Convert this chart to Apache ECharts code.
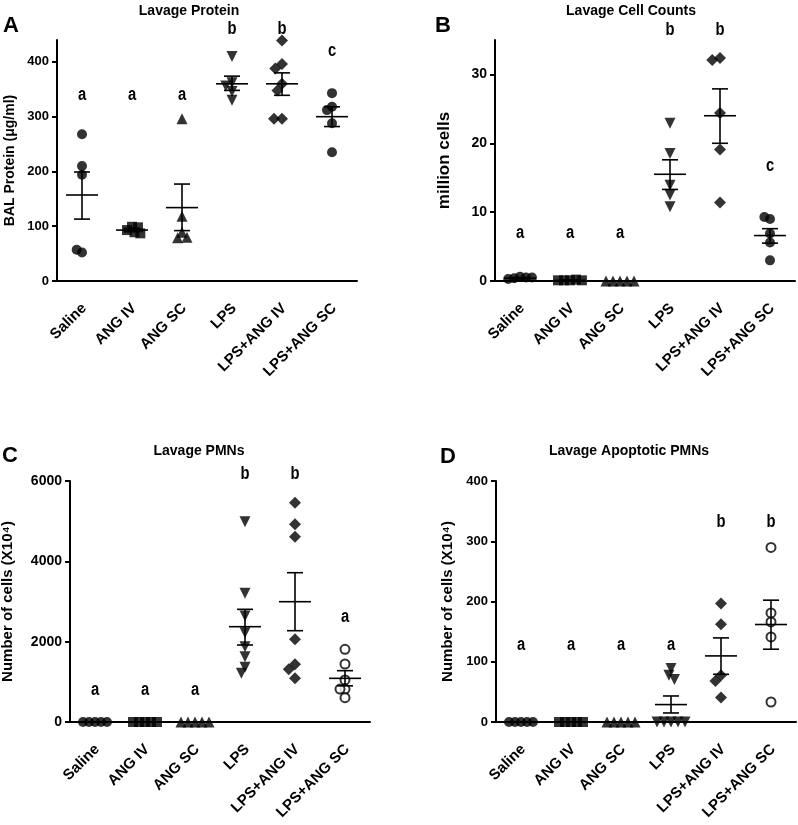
<!DOCTYPE html>
<html><head><meta charset="utf-8">
<script src="https://cdn.jsdelivr.net/npm/echarts@6/dist/echarts.min.js"></script>
<style>html,body{margin:0;padding:0;background:#fff}#c{width:798px;height:825px}</style>
</head><body><div id="c"></div>
<script>
const categories = ['Saline', 'ANG IV', 'ANG SC', 'LPS', 'LPS+ANG IV', 'LPS+ANG SC'];

// Panel A - Lavage Protein (µg/ml)
const proteinPoints = [
  [268, 210, 194, 52, 57],
  [99, 98, 93, 89, 87],
  [296, 118, 89, 79, 80],
  [410, 362, 356, 346, 330],
  [439, 396, 388, 360, 348, 296, 296],
  [343, 318, 312, 288, 235]
];
const proteinMean = [157, 93, 134, 360, 360, 300];
const proteinSemHigh = [199, 96, 177, 374, 380, 318];
const proteinSemLow = [113, 90, 92, 348, 339, 282];
const proteinLetters = ['a', 'a', 'a', 'b', 'b', 'c'];
const proteinLetterLevel = [340, 340, 340, 460, 460, 419];
const proteinTicks = [0, 100, 200, 300, 400];

// Panel B - Lavage Cell Counts (million cells)
const cellPoints = [
  [0.6, 0.4, 0.5, 0.3, 0.5],
  [0.1, 0.1, 0.2, 0.1, 0.1],
  [0, 0, 0, 0, 0],
  [22.9, 18.5, 13.9, 12.5, 10.8],
  [32.4, 32.1, 24.4, 19.1, 11.4],
  [9.0, 9.3, 6.9, 5.6, 3.0]
];
const cellMean = [0.4, 0.1, 0.0, 15.5, 24.0, 6.6];
const cellSemHigh = [0.5, 0.15, 0.0, 17.6, 27.9, 7.6];
const cellSemLow = [0.3, 0.05, 0.0, 13.3, 20.0, 5.5];
const cellLetters = ['a', 'a', 'a', 'b', 'b', 'c'];
const cellLetterLevel = [6.9, 6.9, 6.9, 36.5, 36.5, 16.7];
const cellTicks = [0, 10, 20, 30];

// Panel C - Lavage PMNs (x10^4)
const pmnPoints = [
  [0, 0, 0, 0, 0],
  [0, 0, 0, 0, 0],
  [0, 0, 0, 0, 0],
  [4987, 3204, 2639, 2224, 1876, 1626, 1361, 1212],
  [5460, 4921, 4613, 2058, 1436, 1311, 1087],
  [1809, 1444, 1046, 821, 821, 605]
];
const pmnMean = [0, 0, 0, 2373, 2995, 1087];
const pmnSemHigh = [0, 0, 0, 2805, 3717, 1278];
const pmnSemLow = [0, 0, 0, 1917, 2273, 900];
const pmnLetters = ['a', 'a', 'a', 'b', 'b', 'a'];
const pmnLetterLevel = [806, 806, 806, 6184, 6184, 2614];
const pmnTicks = [0, 2000, 4000, 6000];

// Panel D - Lavage Apoptotic PMNs (x10^4)
const apoPoints = [
  [0, 0, 0, 0, 0],
  [0, 0, 0, 0, 0],
  [0, 0, 0, 0, 0],
  [88.7, 77.6, 70.4, 0, 0, 0, 0, 0],
  [196.6, 162.3, 77.6, 68.1, 40.5],
  [289.7, 181.1, 166.1, 141.2, 33.2]
];
const apoMean = [0, 0, 0, 28.9, 109.7, 161.8];
const apoSemHigh = [0, 0, 0, 43.2, 139.6, 202.2];
const apoSemLow = [0, 0, 0, 15.0, 79.2, 120.8];
const apoLetters = ['a', 'a', 'a', 'a', 'b', 'b'];
const apoLetterLevel = [127, 127, 127, 127, 332, 332];
const apoTicks = [0, 100, 200, 300, 400];

const FONT = '"Liberation Sans", Arial, Helvetica, sans-serif';

const panels = [
  { letter: 'A', title: 'Lavage Protein', grid: { left: 57, top: 40, width: 300, height: 241 }, max: 440, interval: 100,
    ticks: proteinTicks, points: proteinPoints, mean: proteinMean, hi: proteinSemHigh, lo: proteinSemLow,
    letters: proteinLetters, levels: proteinLetterLevel, yName: 'BAL Protein (μg/ml)', nameGap: 40, tickFont: 13, nameFont: 14,
    titlePos: [189, 11], letterPos: [11, 26], open: false },
  { letter: 'B', title: 'Lavage Cell Counts', grid: { left: 495, top: 40, width: 300, height: 241 }, max: 35, interval: 10,
    ticks: cellTicks, points: cellPoints, mean: cellMean, hi: cellSemHigh, lo: cellSemLow,
    letters: cellLetters, levels: cellLetterLevel, yName: 'million cells', nameGap: 42, tickFont: 14, nameFont: 17,
    titlePos: [631, 11], letterPos: [443, 26], open: false },
  { letter: 'C', title: 'Lavage PMNs', grid: { left: 70, top: 481, width: 300, height: 241 }, max: 6000, interval: 2000,
    ticks: pmnTicks, points: pmnPoints, mean: pmnMean, hi: pmnSemHigh, lo: pmnSemLow,
    letters: pmnLetters, levels: pmnLetterLevel, yName: 'Number of cells (X10⁴)', nameGap: 55, tickFont: 14, nameFont: 15,
    titlePos: [199, 451], letterPos: [10, 456], open: true },
  { letter: 'D', title: 'Lavage Apoptotic PMNs', grid: { left: 496, top: 481, width: 300, height: 241 }, max: 400, interval: 100,
    ticks: apoTicks, points: apoPoints, mean: apoMean, hi: apoSemHigh, lo: apoSemLow,
    letters: apoLetters, levels: apoLetterLevel, yName: 'Number of cells (X10⁴)', nameGap: 41, tickFont: 13, nameFont: 15,
    titlePos: [629, 451], letterPos: [448, 457], open: true }
];

const symbolShapes = ['circle', 'rect', 'triangle', 'triangle', 'diamond', 'circle'];
const symbolRot = [0, 0, 0, 180, 0, 0];
const symbolSizes = [10, 10, 11, 11, 12, 10];

const grids = [], xAxes = [], yAxes = [], series = [], graphics = [];

panels.forEach((p, pi) => {
  grids.push(Object.assign({ outerBoundsMode: 'none', containLabel: false }, p.grid));
  xAxes.push({
    type: 'category', gridIndex: pi, data: categories,
    jitter: 40, jitterOverlap: false, jitterMargin: -4,
    axisLine: { lineStyle: { color: '#000', width: 2 } },
    axisTick: { alignWithLabel: true, length: 6, lineStyle: { color: '#000', width: 2 } },
    axisLabel: { interval: 0, rotate: 45, margin: 27, padding: [0, -3, 0, 0], color: '#000', fontFamily: FONT, fontWeight: 'bold', fontSize: 15 },
    splitLine: { show: false }
  });
  const step = p.interval;
  yAxes.push({
    type: 'value', gridIndex: pi, min: 0, max: p.max, interval: p.interval,
    name: p.yName, nameLocation: 'middle', nameRotate: 90, nameGap: p.nameGap,
    nameTextStyle: { color: '#000', fontFamily: FONT, fontWeight: 'bold', fontSize: p.nameFont },
    axisLine: { show: true, lineStyle: { color: '#000', width: 2 } },
    axisTick: { show: true, length: 5, customValues: p.ticks, lineStyle: { color: '#000', width: 2 } },
    axisLabel: { margin: 8, customValues: p.ticks, color: '#000', fontFamily: FONT, fontWeight: 'bold', fontSize: p.tickFont,
      formatter: v => (Math.abs(v / step - Math.round(v / step)) < 1e-9 ? String(v) : '') },
    splitLine: { show: false }
  });
  p.points.forEach((vals, ci) => {
    const open = p.open && ci === 5;
    series.push({
      type: 'scatter', xAxisIndex: pi, yAxisIndex: pi, name: categories[ci],
      data: vals.map(v => [ci, v]),
      symbol: open ? 'emptyCircle' : symbolShapes[ci],
      symbolRotate: symbolRot[ci],
      symbolSize: open ? 9 : symbolSizes[ci],
      clip: false,
      itemStyle: open ? { color: '#000', borderColor: '#000', borderWidth: 1.5 } : { color: '#000' },
      emphasis: { disabled: true },
      z: 2
    });
  });
  series.push({
    type: 'custom', xAxisIndex: pi, yAxisIndex: pi, z: 3,
    data: p.mean.map((m, ci) => [ci, m, p.lo[ci], p.hi[ci]]),
    renderItem: (params, api) => {
      const ci = api.value(0);
      const m = api.coord([ci, api.value(1)]);
      const lo = api.coord([ci, api.value(2)]);
      const hi = api.coord([ci, api.value(3)]);
      const st = { stroke: '#000', lineWidth: 1.6 };
      return { type: 'group', children: [
        { type: 'line', shape: { x1: m[0] - 16, y1: m[1], x2: m[0] + 16, y2: m[1] }, style: st },
        { type: 'line', shape: { x1: m[0], y1: lo[1], x2: m[0], y2: hi[1] }, style: st },
        { type: 'line', shape: { x1: m[0] - 8, y1: lo[1], x2: m[0] + 8, y2: lo[1] }, style: st },
        { type: 'line', shape: { x1: m[0] - 8, y1: hi[1], x2: m[0] + 8, y2: hi[1] }, style: st }
      ] };
    }
  });
  series.push({
    type: 'custom', xAxisIndex: pi, yAxisIndex: pi, z: 4, clip: false,
    data: p.levels.map((lv, ci) => [ci, lv]),
    renderItem: (params, api) => {
      const pt = api.coord([api.value(0), api.value(1)]);
      return { type: 'text', x: pt[0], y: pt[1], scaleX: 0.82, style: {
        text: p.letters[params.dataIndex], align: 'center', verticalAlign: 'middle',
        font: 'bold 18px ' + FONT, fill: '#000' } };
    }
  });
  graphics.push({ type: 'text', x: p.titlePos[0], y: p.titlePos[1], style: {
    text: p.title, align: 'center', verticalAlign: 'middle', font: 'bold 14px ' + FONT, fill: '#000' } });
  graphics.push({ type: 'text', x: p.letterPos[0], y: p.letterPos[1], style: {
    text: p.letter, align: 'center', verticalAlign: 'middle', font: 'bold 22px ' + FONT, fill: '#000' } });
});

const chart = echarts.init(document.getElementById('c'), null, { renderer: 'canvas' });
chart.setOption({
  animation: false,
  backgroundColor: '#fff',
  grid: grids, xAxis: xAxes, yAxis: yAxes, series: series, graphic: graphics
});
</script>
</body></html>
